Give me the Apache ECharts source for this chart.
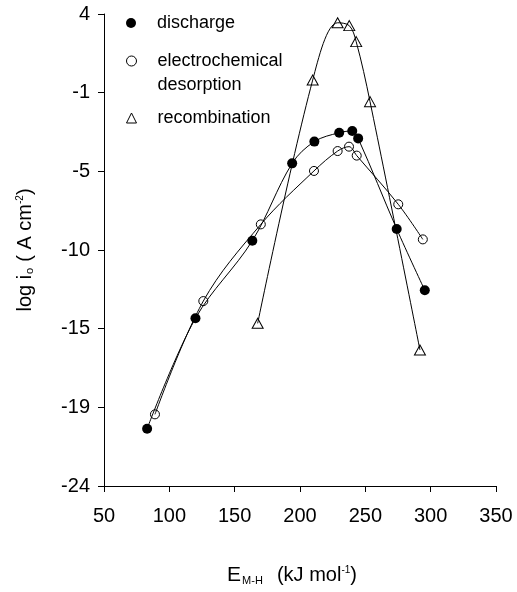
<!DOCTYPE html>
<html>
<head>
<meta charset="utf-8">
<script src="https://cdn.jsdelivr.net/npm/echarts@6.0.0/dist/echarts.min.js"></script>
<style>
    html, body { margin: 0; padding: 0; background: #fff; }
    #mychart { width: 517px; height: 592px; }
</style>
</head>
<body>
<div id="mychart"></div>
<script>
// data
var dischargeX = [83, 120, 163.5, 194, 211, 230, 240, 244.5, 274, 295.5];
var dischargeY = [-20.6, -14.05, -9.45, -4.86, -3.57, -3.04, -2.94, -3.38, -8.75, -12.39];

var desorptionX = [89, 126, 170, 210.7, 228.8, 237.5, 243.4, 275.2, 294];
var desorptionY = [-19.75, -13.03, -8.48, -5.31, -4.13, -3.87, -4.4, -7.29, -9.37];

var recombX = [167.6, 209.7, 228.8, 237.7, 243, 253.6, 291.8];
var recombY = [-14.35, 0.08, 3.48, 3.31, 2.36, -1.2, -15.93];

// y ticks: 6 equal steps from -24 to 4, labels rounded
var yTickLabels = [-24, -19, -15, -10, -5, -1, 4];
var xTickLabels = [50, 100, 150, 200, 250, 300, 350];

var yMin = -24, yMax = 4;
var yStep = (yMax - yMin) / (yTickLabels.length - 1);
var yTickPos = [];
for (var i = 0; i < yTickLabels.length; i++) {
    yTickPos.push(yMin + i * yStep);
}

function pairs(xs, ys) {
    var arr = [];
    for (var i = 0; i < xs.length; i++) {
        arr.push([xs[i], ys[i]]);
    }
    return arr;
}

var font = 'Liberation Sans';
var myChart = echarts.init(document.getElementById('mychart'));

function legendBox(name, icon, top, text) {
    return {
        data: [{ name: name, icon: icon }],
        orient: 'vertical',
        left: 126,
        top: top,
        padding: 0,
        itemWidth: 10,
        itemHeight: 10,
        itemStyle: { borderWidth: 1 },
        formatter: function () { return text; },
        textStyle: { fontFamily: font, fontSize: 18, lineHeight: 24, color: '#000', padding: [0, 0, 0, 16] }
    };
}

myChart.setOption({
    animation: false,
    backgroundColor: '#fff',
    grid: {
        left: 104,
        right: 21,
        top: 14,
        bottom: 106
    },
    legend: [
        legendBox('discharge', 'circle', 11, 'discharge'),
        legendBox('electrochemical desorption', 'circle', 25, ' \nelectrochemical\ndesorption'),
        legendBox('recombination', 'triangle', 106, 'recombination')
    ],
    xAxis: {
        type: 'value',
        min: xTickLabels[0],
        max: xTickLabels[xTickLabels.length - 1],
        interval: 50,
        name: '{e|E}{sub|M-H}{t|  (kJ mol}{sup|-1}{t|)}',
        nameLocation: 'middle',
        nameGap: 76,
        nameTextStyle: {
            padding: [0, 16, 0, 0],
            rich: {
                e: { fontFamily: font, fontSize: 21, color: '#000', lineHeight: 26 },
                t: { fontFamily: font, fontSize: 20, color: '#000', lineHeight: 26 },
                sub: { fontFamily: font, fontSize: 11, color: '#000', padding: [12, 3, 0, 1] },
                sup: { fontFamily: font, fontSize: 10, color: '#000', padding: [0, 0, 10, 0] }
            }
        },
        axisLine: { onZero: false, lineStyle: { color: '#000', width: 1 } },
        axisTick: { inside: false, length: 6, lineStyle: { color: '#000' } },
        axisLabel: { color: '#000', fontFamily: font, fontSize: 20, margin: 20 },
        splitLine: { show: false }
    },
    yAxis: {
        type: 'value',
        min: yMin,
        max: yMax,
        name: '{t|log i}{sub|o}{t|( A cm}{sup|-2}{t|)}',
        nameLocation: 'middle',
        nameRotate: 90,
        nameGap: 66,
        nameTextStyle: {
            rich: {
                t: { fontFamily: font, fontSize: 20, color: '#000', lineHeight: 26 },
                sub: { fontFamily: font, fontSize: 11, color: '#000', padding: [10, 6, 0, 1] },
                sup: { fontFamily: font, fontSize: 10, color: '#000', padding: [0, 0, 10, 0] }
            }
        },
        axisLine: { show: true, onZero: false, lineStyle: { color: '#000', width: 1 } },
        axisTick: { show: true, inside: false, length: 6, customValues: yTickPos, lineStyle: { color: '#000' } },
        axisLabel: {
            color: '#000',
            fontFamily: font,
            fontSize: 20,
            margin: 14,
            customValues: yTickPos,
            formatter: function (value) {
                var k = Math.round((value - yMin) / yStep);
                return String(yTickLabels[k]);
            }
        },
        splitLine: { show: false }
    },
    series: [
        {
            name: 'discharge',
            type: 'line',
            smooth: 0.35,
            symbol: 'circle',
            symbolSize: 10,
            itemStyle: { color: '#000' },
            lineStyle: { color: '#000', width: 1 },
            data: pairs(dischargeX, dischargeY)
        },
        {
            name: 'electrochemical desorption',
            type: 'line',
            smooth: 0.35,
            symbol: 'circle',
            symbolSize: 9,
            itemStyle: { color: 'rgba(255,255,255,0)', borderColor: '#000', borderWidth: 1 },
            lineStyle: { color: '#000', width: 1 },
            data: pairs(desorptionX, desorptionY)
        },
        {
            name: 'recombination',
            type: 'line',
            smooth: 0.35,
            symbol: 'triangle',
            symbolSize: [11, 10],
            itemStyle: { color: 'rgba(255,255,255,0)', borderColor: '#000', borderWidth: 1 },
            lineStyle: { color: '#000', width: 1 },
            data: pairs(recombX, recombY)
        }
    ]
});
</script>
</body>
</html>
